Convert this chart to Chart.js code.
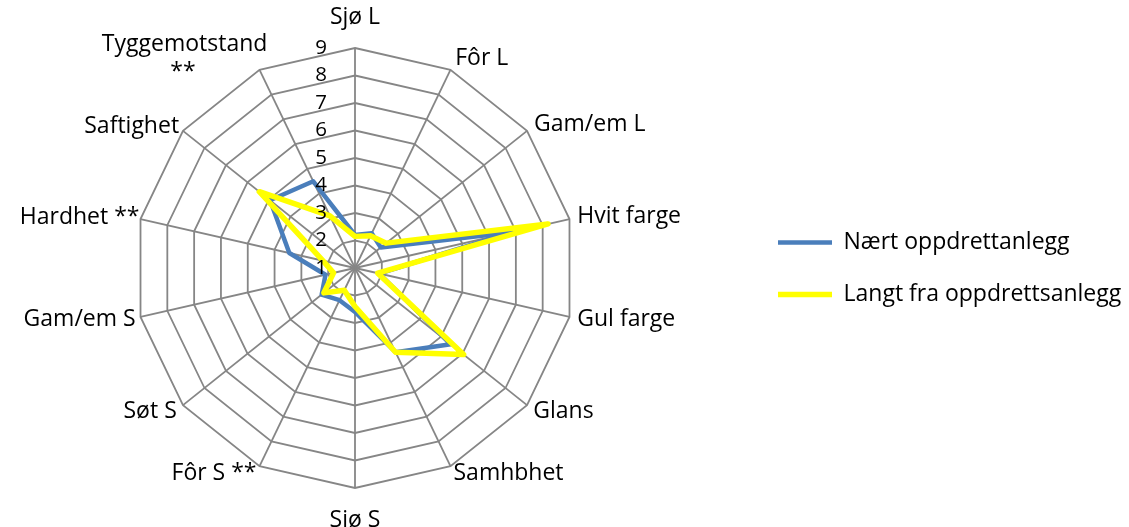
<!DOCTYPE html>
<html>
<head>
<meta charset="utf-8">
<script src="https://cdn.jsdelivr.net/npm/chart.js@4.4.1/dist/chart.umd.min.js"></script>
<style>
  html, body { margin: 0; padding: 0; background: #fff; overflow: hidden; }
  /* canvas is a bit wider than the page and pulled left so the radar sits where Excel put it */
  canvas { display: block; margin-left: -39px; }
</style>
</head>
<body>
<canvas id="radar" width="1168" height="527"></canvas>
<script>
// categories clockwise from the top
const categories = ['Sjø L', 'Fôr L', 'Gam/em L', 'Hvit farge', 'Gul farge', 'Glans', 'Samhbhet',
    'Sjø S', 'Fôr S **', 'Søt S', 'Gam/em S', 'Hardhet **', 'Saftighet', ['Tyggemotstand', '**            ']];
const seriesNames = ['Nært oppdrettanlegg', 'Langt fra oppdrettsanlegg'];
const nearFarm = [2.2, 2.4, 2.2, 6.85, 1.9, 5.45, 4.4, 2.6, 2.3, 2.55, 2.1, 3.45, 4.95, 4.5];
const farFromFarm = [2.15, 2.3, 2.45, 8.2, 1.85, 6.05, 4.4, 2.4, 1.9, 2.45, 1.8, 2.2, 5.45, 3.1];
const tickValues = [1, 2, 3, 4, 5, 6, 7, 8, 9];

// distance of each category label from the outer ring
const labelPadding = [30, 11, 9, 8, 8, 8, 7, 31, 7, 8, 5, 1, 5, -18];

Chart.defaults.font.family = '"Open Sans", sans-serif';
Chart.defaults.color = '#000';

// tick numbers sit left of the top axis and above the lines, like Excel does it
const tickLabels = {
    id: 'tickLabels',
    afterDatasetsDraw(chart) {
        const r = chart.scales.r;
        const ctx = chart.ctx;
        ctx.save();
        ctx.font = '20.5px "Open Sans"';
        ctx.fillStyle = '#000';
        ctx.textAlign = 'center';
        ctx.textBaseline = 'middle';
        tickValues.forEach(v => {
            ctx.fillText(String(v), r.xCenter - 34, r.yCenter - r.getDistanceFromCenterForValue(v));
        });
        ctx.restore();
    }
};

new Chart(document.getElementById('radar'), {
    type: 'radar',
    data: {
        labels: categories,
        datasets: [
            {
                label: seriesNames[0],
                data: nearFarm,
                borderColor: '#4A7EBB',
                backgroundColor: '#4A7EBB',
                borderWidth: 4.5,
                borderCapStyle: 'round',
                borderJoinStyle: 'round',
                pointRadius: 0,
                fill: false,
                order: 1,
            },
            {
                label: seriesNames[1],
                data: farFromFarm,
                borderColor: '#FFFF00',
                backgroundColor: '#FFFF00',
                borderWidth: 5.5,
                borderCapStyle: 'round',
                borderJoinStyle: 'round',
                pointRadius: 0,
                fill: false,
                order: 0,
            }
        ]
    },
    options: {
        responsive: false,
        animation: false,
        devicePixelRatio: 1,
        layout: {
            padding: {left: 0, right: 0, top: 16, bottom: 6}
        },
        elements: {line: {tension: 0}},
        scales: {
            r: {
                min: 1,
                max: 9,
                beginAtZero: false,
                ticks: {display: false, stepSize: 1},
                grid: {color: '#868686', lineWidth: 1.8, circular: false},
                angleLines: {color: '#868686', lineWidth: 1.8},
                pointLabels: {
                    color: '#000',
                    padding: (ctx) => labelPadding[ctx.index],
                    font: (ctx) => ({size: 23, lineHeight: ctx.index === 13 ? '28px' : '2px'}),
                }
            }
        },
        plugins: {
            tooltip: {enabled: false},
            legend: {
                position: 'right',
                maxWidth: 380,
                labels: {
                    usePointStyle: true,
                    pointStyle: 'line',
                    pointStyleWidth: 54,
                    padding: 29,
                    color: '#000',
                    font: {size: 23},
                    sort: (a, b) => a.datasetIndex - b.datasetIndex,
                }
            }
        }
    },
    plugins: [tickLabels]
});
</script>
</body>
</html>
